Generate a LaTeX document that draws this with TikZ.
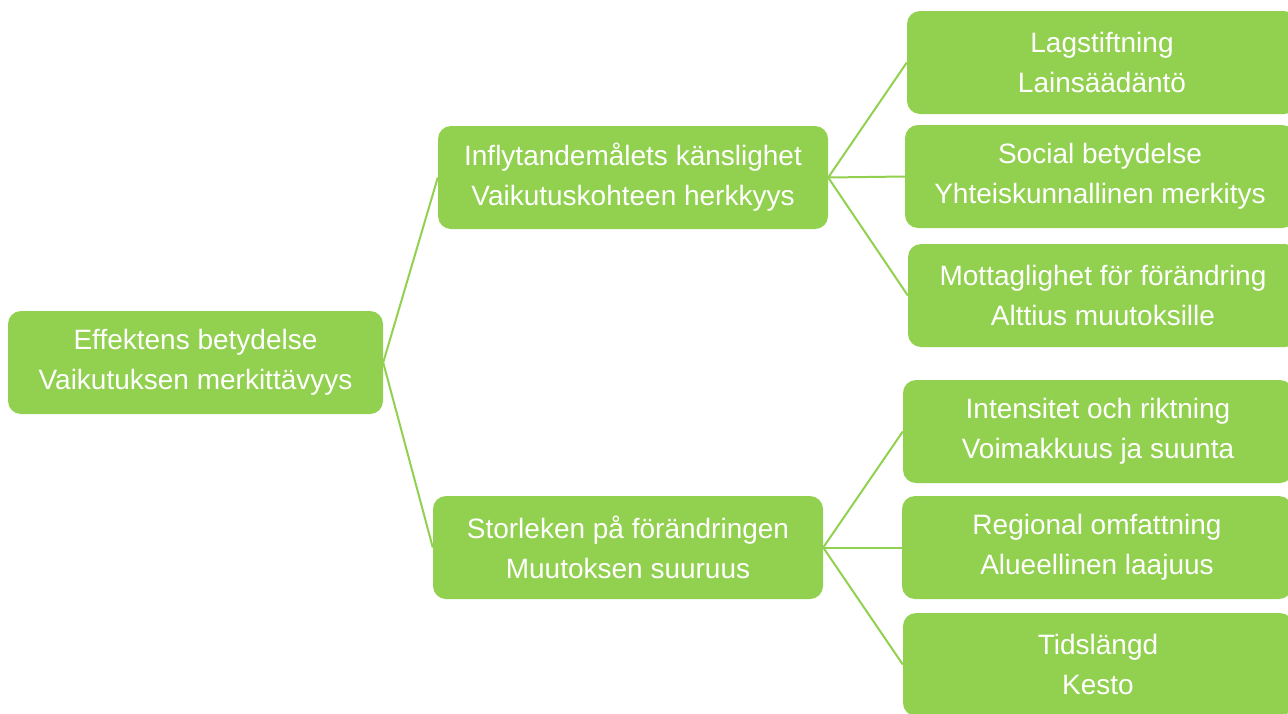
\documentclass[tikz,border=0pt]{standalone}
\usepackage{fontspec}
\setmainfont{Liberation Sans}
\usepackage{tikz}
\definecolor{boxgreen}{RGB}{146,208,80}

\begin{document}
\begin{tikzpicture}[x=1pt,y=-1pt,
  gbox/.style={fill=boxgreen,rounded corners=13pt,text=white,align=center,
    minimum width=390pt,minimum height=103pt,inner sep=0pt,
    font=\fontsize{28}{40}\selectfont},
  link/.style={draw=boxgreen,line width=2pt}]
\useasboundingbox (0,0) rectangle (1288,713);
\clip (0,0) rectangle (1288,713);
\node[gbox,minimum width=375pt] (effekt) at (195.5,362.5) {Effektens betydelse\\Vaikutuksen merkittävyys};
\node[gbox] (kanslig) at (633,177.5) {Inflytandemålets känslighet\\Vaikutuskohteen herkkyys};
\node[gbox] (storlek) at (628,547.5) {Storleken på förändringen\\Muutoksen suuruus};
\node[gbox] (lag) at (1102,62.5) {Lagstiftning\\Lainsäädäntö};
\node[gbox] (social) at (1100,176.5) {Social betydelse\\Yhteiskunnallinen merkitys};
\node[gbox] (mottag) at (1103,295.5) {Mottaglighet för förändring\\Alttius muutoksille};
\node[gbox] (intens) at (1098,431.5) {Intensitet och riktning\\Voimakkuus ja suunta};
\node[gbox] (region) at (1097,547.5) {Regional omfattning\\Alueellinen laajuus};
\node[gbox] (tid) at (1098,664.5) {Tidslängd\\Kesto};
\draw[link] (effekt.east) -- (kanslig.west);
\draw[link] (effekt.east) -- (storlek.west);
\draw[link] (kanslig.east) -- (lag.west);
\draw[link] (kanslig.east) -- (social.west);
\draw[link] (kanslig.east) -- (mottag.west);
\draw[link] (storlek.east) -- (intens.west);
\draw[link] (storlek.east) -- (region.west);
\draw[link] (storlek.east) -- (tid.west);
\end{tikzpicture}
\end{document}
